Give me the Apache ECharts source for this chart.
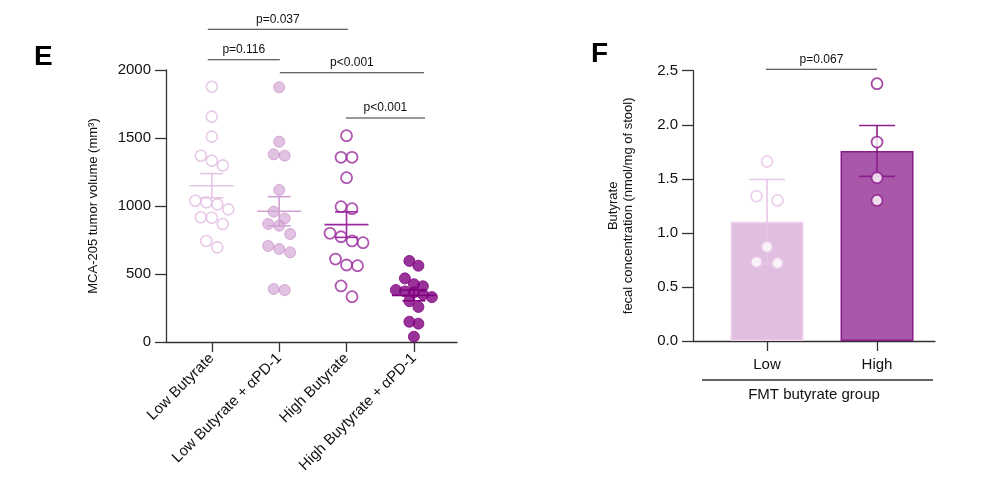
<!DOCTYPE html>
<html>
<head>
<meta charset="utf-8">
<script src="https://cdn.jsdelivr.net/npm/echarts@6.0.0/dist/echarts.min.js"></script>
<style>
  html, body { margin: 0; padding: 0; background: #fff; }
  #main { width: 1000px; height: 496px; }
</style>
</head>
<body>
<div id="main"></div>
<script>
// panel E: tumor volume per group (mm3)
var groups = ['Low Butyrate', 'Low Butyrate + αPD-1', 'High Butyrate', 'High Buytyrate + αPD-1'];
var lowButyrate = [1877, 1657, 1510, 1370, 1333, 1299, 1039, 1027, 1012, 975, 917, 914, 868, 743, 696];
var lowButyratePD1 = [1873, 1473, 1380, 1370, 1118, 958, 909, 868, 855, 794, 706, 684, 659, 390, 382];
var highButyrate = [1517, 1358, 1358, 1208, 995, 980, 799, 774, 743, 730, 610, 566, 561, 412, 333];
var highButyratePD1 = [596, 561, 468, 425, 410, 382, 372, 365, 350, 330, 300, 258, 149, 135, 39];
var tumorTicks = [0, 500, 1000, 1500, 2000];

// brackets over panel E
var tumorPLabels = ['p=0.037', 'p=0.116', 'p<0.001', 'p<0.001'];
var tumorPFrom = [0.94, 0.94, 2.01, 2.99];
var tumorPTo = [3.02, 2.01, 4.15, 4.165];
var tumorPY = [2300, 2075, 1980, 1647];

// panel F: fecal butyrate (nmol/mg of stool)
var fmtGroups = ['Low', 'High'];
var fmtLow = [1.66, 1.34, 1.30, 0.87, 0.72, 0.73];
var fmtHigh = [2.38, 1.84, 1.51, 1.30];
var fmtErr = [0.39, 0.235];
var fmtPLabels = ['p=0.067'];
var fmtPFrom = [0.99];
var fmtPTo = [2.0];
var fmtPY = [2.513];

var font = '"Liberation Sans", Arial, Helvetica, sans-serif';
var axisColor = '#333';
var tumorColors = ['#e2bce2', '#cf9ad0', '#9a2a9e', '#800080'];
var fmtColors = ['#e8c6e8', '#8c1c8c'];

function mean(a) {
    var s = 0;
    for (var i = 0; i < a.length; i++) s += a[i];
    return s / a.length;
}
function sem(a) {
    var m = mean(a), s = 0;
    for (var i = 0; i < a.length; i++) s += (a[i] - m) * (a[i] - m);
    return Math.sqrt(s / (a.length - 1)) / Math.sqrt(a.length);
}

var tumorSets = [lowButyrate, lowButyratePD1, highButyrate, highButyratePD1];
var tumorErrData = tumorSets.map(function (d, i) { return [i + 1, mean(d), sem(d)]; });
var fmtSets = [fmtLow, fmtHigh];
var fmtMeans = fmtSets.map(mean);

function bracketData(from, to, y) {
    return from.map(function (f, i) { return [f, y[i], to[i]]; });
}

function renderBracket(labels) {
    return function (params, api) {
        var a = api.coord([api.value(0), api.value(1)]);
        var b = api.coord([api.value(2), api.value(1)]);
        return {
            type: 'group',
            children: [
                { type: 'line', shape: { x1: a[0], y1: a[1], x2: b[0], y2: b[1] },
                  style: { stroke: '#333', lineWidth: 1.1 } },
                { type: 'text', style: { text: labels[params.dataIndex], x: (a[0] + b[0]) / 2, y: a[1] - 4,
                  align: 'center', verticalAlign: 'bottom', font: '12px ' + font, fill: '#111' } }
            ]
        };
    };
}

function renderErr(colors, halfMean, halfCap) {
    return function (params, api) {
        var x = api.value(0), m = api.value(1), e = api.value(2);
        var c = api.coord([x, m]), t = api.coord([x, m + e]), b = api.coord([x, m - e]);
        var col = colors[params.dataIndex];
        function st() { return { stroke: col, lineWidth: 1.6 }; }
        var kids = [
            { type: 'line', shape: { x1: c[0], y1: t[1], x2: c[0], y2: b[1] }, style: st() },
            { type: 'line', shape: { x1: c[0] - halfCap, y1: t[1], x2: c[0] + halfCap, y2: t[1] }, style: st() },
            { type: 'line', shape: { x1: c[0] - halfCap, y1: b[1], x2: c[0] + halfCap, y2: b[1] }, style: st() }
        ];
        if (halfMean) {
            kids.push({ type: 'line', shape: { x1: c[0] - halfMean, y1: c[1], x2: c[0] + halfMean, y2: c[1] }, style: st() });
        }
        return { type: 'group', children: kids };
    };
}

function centerData(vals, x) {
    return vals.map(function (v) { return [x, v]; });
}

var chart = echarts.init(document.getElementById('main'));

var axLine = { lineStyle: { color: axisColor, width: 1.3 } };

chart.setOption({
    animation: false,
    grid: [
        { left: 166, top: 70, width: 291, height: 272 },
        { left: 693, top: 70.7, width: 242, height: 270.3 }
    ],
    xAxis: [{
        gridIndex: 0, type: 'value', min: 0.32, max: 4.64,
        splitLine: { show: false },
        axisLine: { onZero: false, lineStyle: axLine.lineStyle },
        axisTick: { customValues: [1, 2, 3, 4], length: 10, lineStyle: axLine.lineStyle },
        axisLabel: {
            customValues: [1, 2, 3, 4], rotate: 45, margin: 14,
            color: '#111', fontSize: 15, fontFamily: font,
            formatter: function (v) { return groups[Math.round(v) - 1]; }
        }
    }, {
        gridIndex: 1, type: 'value', min: 0.327, max: 2.527,
        splitLine: { show: false },
        axisLine: { onZero: false, lineStyle: axLine.lineStyle },
        axisTick: { customValues: [1, 2], length: 10, lineStyle: axLine.lineStyle },
        axisLabel: {
            customValues: [1, 2], margin: 16,
            color: '#111', fontSize: 15, fontFamily: font,
            formatter: function (v) { return fmtGroups[Math.round(v) - 1]; }
        },
        name: 'FMT butyrate group', nameLocation: 'middle', nameGap: 46,
        nameTextStyle: { color: '#111', fontSize: 15, fontFamily: font }
    }],
    yAxis: [{
        gridIndex: 0, type: 'value', min: tumorTicks[0], max: tumorTicks[tumorTicks.length - 1], interval: 500,
        splitLine: { show: false },
        axisLine: { show: true, onZero: false, lineStyle: axLine.lineStyle },
        axisTick: { show: true, length: 11, lineStyle: axLine.lineStyle },
        axisLabel: { margin: 15, color: '#111', fontSize: 15, fontFamily: font,
            formatter: function (v) { return String(v); } },
        name: 'MCA-205 tumor volume (mm³)', nameLocation: 'middle', nameGap: 66,
        nameTextStyle: { color: '#111', fontSize: 13, fontFamily: font }
    }, {
        gridIndex: 1, type: 'value', min: 0, max: 2.5, interval: 0.5,
        splitLine: { show: false },
        axisLine: { show: true, onZero: false, lineStyle: axLine.lineStyle },
        axisTick: { show: true, length: 11, lineStyle: axLine.lineStyle },
        axisLabel: { margin: 15, color: '#111', fontSize: 15, fontFamily: font,
            formatter: function (v) { return v.toFixed(1); } },
        name: 'Butyrate\nfecal concentration (nmol/mg of stool)', nameLocation: 'middle', nameGap: 57,
        nameTextStyle: { color: '#111', fontSize: 13, lineHeight: 15, fontFamily: font }
    }],
    series: [
        { id: 'g0', type: 'scatter', xAxisIndex: 0, yAxisIndex: 0, symbolSize: 11, z: 3,
          itemStyle: { color: 'rgba(255,255,255,0)', borderColor: tumorColors[0], borderWidth: 1.6 },
          data: centerData(lowButyrate, 1) },
        { id: 'g1', type: 'scatter', xAxisIndex: 0, yAxisIndex: 0, symbolSize: 11, z: 3,
          itemStyle: { color: 'rgba(205,150,205,0.72)', borderColor: 'rgba(195,135,196,0.8)', borderWidth: 1 },
          data: centerData(lowButyratePD1, 2) },
        { id: 'g2', type: 'scatter', xAxisIndex: 0, yAxisIndex: 0, symbolSize: 11, z: 3,
          itemStyle: { color: 'rgba(255,255,255,0)', borderColor: tumorColors[2], borderWidth: 1.8 },
          data: centerData(highButyrate, 3) },
        { id: 'g3', type: 'scatter', xAxisIndex: 0, yAxisIndex: 0, symbolSize: 11, z: 3,
          itemStyle: { color: tumorColors[3], borderColor: tumorColors[3], borderWidth: 1 },
          data: centerData(highButyratePD1, 4) },
        { type: 'custom', xAxisIndex: 0, yAxisIndex: 0, z: 4,
          renderItem: renderErr(['#e6c4e6', '#d2a2d2', tumorColors[2], tumorColors[3]], 22, 11.5),
          data: tumorErrData },
        { type: 'custom', xAxisIndex: 0, yAxisIndex: 0, z: 5, clip: false,
          renderItem: renderBracket(tumorPLabels),
          data: bracketData(tumorPFrom, tumorPTo, tumorPY) },

        { type: 'bar', xAxisIndex: 1, yAxisIndex: 1, barWidth: 73, z: 2,
          data: [
            { value: [1, fmtMeans[0]], itemStyle: { color: '#e0bee0', borderColor: '#ecd2ec', borderWidth: 1.5 } },
            { value: [2, fmtMeans[1]], itemStyle: { color: '#a958a9', borderColor: '#8c1c8c', borderWidth: 1.5 } }
          ] },
        { type: 'custom', xAxisIndex: 1, yAxisIndex: 1, z: 3,
          renderItem: renderErr(fmtColors, 0, 18),
          data: fmtMeans.map(function (m, i) { return [i + 1, m, fmtErr[i]]; }) },
        { id: 'f0', type: 'scatter', xAxisIndex: 1, yAxisIndex: 1, symbolSize: 11, z: 4,
          itemStyle: { color: '#fff', borderColor: fmtColors[0], borderWidth: 1.8 },
          data: centerData(fmtLow, 1) },
        { id: 'f1', type: 'scatter', xAxisIndex: 1, yAxisIndex: 1, symbolSize: 11, z: 4,
          itemStyle: { color: '#fff', borderColor: fmtColors[1], borderWidth: 1.8 },
          data: centerData(fmtHigh, 2) },
        { type: 'custom', xAxisIndex: 1, yAxisIndex: 1, z: 5, clip: false,
          renderItem: renderBracket(fmtPLabels),
          data: bracketData(fmtPFrom, fmtPTo, fmtPY) }
    ],
    graphic: [
        { type: 'text', left: 34, top: 43, style: { text: 'E', font: 'bold 28px ' + font, fill: '#000' } },
        { type: 'text', left: 591, top: 40, style: { text: 'F', font: 'bold 28px ' + font, fill: '#000' } },
        { type: 'line', shape: { x1: 702, y1: 380, x2: 933, y2: 380 }, style: { stroke: axisColor, lineWidth: 1.3 } }
    ]
});

// spread points sideways in rows, like a column scatter
function swarm(vals, center, gridIndex, spacing, rowGap) {
    var f = { gridIndex: gridIndex };
    var cx = chart.convertToPixel(f, [center, 0])[0];
    var pts = vals.map(function (v) { return { v: v, py: chart.convertToPixel(f, [center, v])[1] }; });
    pts.sort(function (a, b) { return b.v - a.v; });
    var rows = [], cur = null;
    pts.forEach(function (p) {
        if (cur && p.py - cur[0].py < rowGap) cur.push(p);
        else { cur = [p]; rows.push(cur); }
    });
    var out = [];
    rows.forEach(function (r) {
        r.forEach(function (p, k) {
            var off = (k - (r.length - 1) / 2) * spacing;
            out.push([chart.convertFromPixel(f, [cx + off, p.py])[0], p.v]);
        });
    });
    return out;
}

chart.setOption({
    series: [
        { id: 'g0', data: swarm(lowButyrate, 1, 0, 11, 11) },
        { id: 'g1', data: swarm(lowButyratePD1, 2, 0, 11, 11) },
        { id: 'g2', data: swarm(highButyrate, 3, 0, 11, 11) },
        { id: 'g3', data: swarm(highButyratePD1, 4, 0, 9, 11) },
        { id: 'f0', data: swarm(fmtLow, 1, 1, 21, 11) },
        { id: 'f1', data: swarm(fmtHigh, 2, 1, 21, 11) }
    ]
});
</script>
</body>
</html>
